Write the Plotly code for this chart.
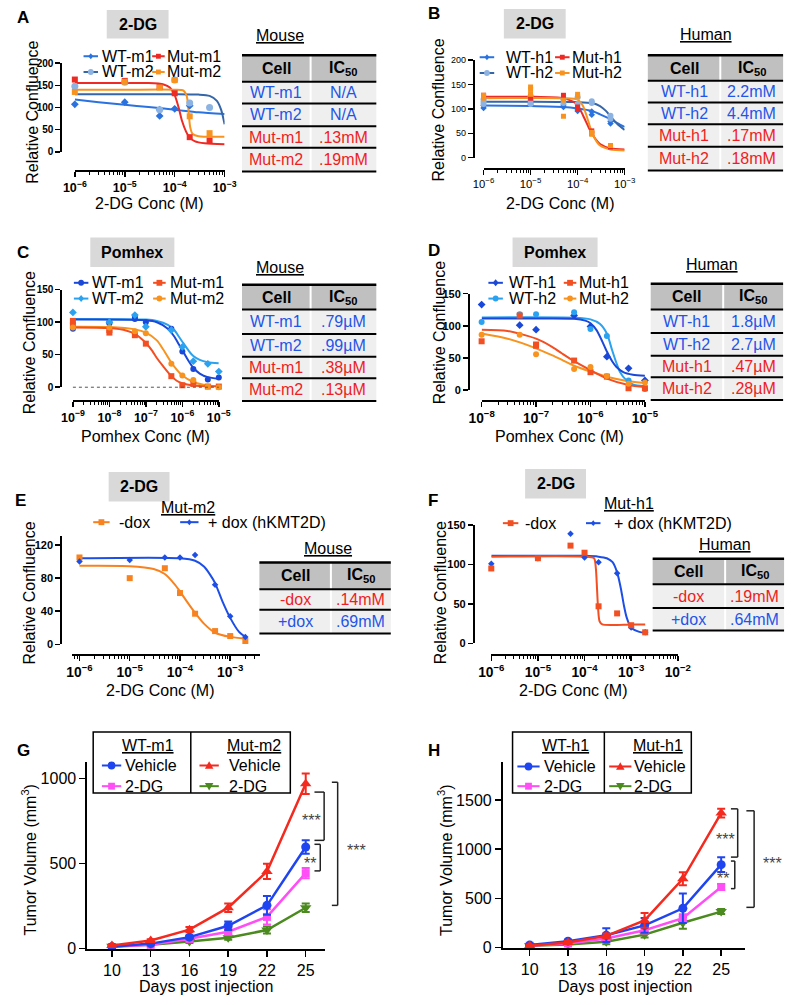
import plotly.graph_objects as go

W, H = 800, 1005
FONT = "Liberation Sans, Arial, sans-serif"

# ====================== DATA ======================
# ---- Panel A : 2-DG, mouse (conc M, relative confluence) ----
A_wt_m1_x = [1e-6, 1e-5, 5e-5, 5e-5, 1e-4, 2e-4, 1e-3]
A_wt_m1_y = [107, 112, 95, 81, 97, 104, 73]
A_wt_m2_x = [1e-6, 1e-5, 5e-5, 1e-4, 2e-4, 5e-4, 1e-3]
A_wt_m2_y = [148, 157, 95, 162, 110, 100, 57]
A_mut_m1_x = [1e-6, 1e-5, 5e-5, 1e-4, 2e-4, 5e-4, 1e-3]
A_mut_m1_y = [163, 160, 147, 132, 33, 25, 13]
A_mut_m2_x = [1e-6, 1e-5, 5e-5, 1e-4, 2e-4, 5e-4, 1e-3]
A_mut_m2_y = [135, 158, 145, 162, 80, 42, 25]
A_fit_wt_m1_x = [1e-6, 3e-6, 1e-5, 3e-5, 1e-4, 3e-4, 1e-3]
A_fit_wt_m1_y = [118, 112, 106, 101, 95, 89, 85]
A_fit_wt_m2_x = [1e-6, 1e-5, 1e-4, 3e-4, 5e-4, 7e-4, 8.5e-4, 1e-3]
A_fit_wt_m2_y = [130, 130, 130, 129, 126, 115, 95, 62]
A_fit_mut_m1_x = [1e-6, 1e-5, 3e-5, 6e-5, 8e-5, 1e-4, 1.2e-4, 1.4e-4, 1.7e-4, 2e-4, 2.5e-4, 4e-4, 1e-3]
A_fit_mut_m1_y = [155, 155, 155, 152, 145, 128, 100, 70, 45, 32, 24, 19, 17]
A_fit_mut_m2_x = [1e-6, 1e-5, 1e-4, 1.5e-4, 1.75e-4, 1.9e-4, 2.05e-4, 2.3e-4, 3e-4, 1e-3]
A_fit_mut_m2_y = [140, 140, 140, 138, 125, 90, 55, 40, 35, 34]

# ---- Panel B : 2-DG, human ----
B_wt_h1_x = [1e-6, 1e-6, 1e-5, 1e-5, 5e-5, 5e-5, 1e-4, 1e-4, 2e-4, 2e-4, 5e-4, 5e-4, 1e-3, 1e-3]
B_wt_h1_y = [102, 107, 110, 116, 108, 104, 96, 100, 88, 95, 75, 70, 60, 66]
B_wt_h2_x = [1e-6, 1e-6, 1e-6, 1e-5, 1e-5, 1e-5, 5e-5, 5e-5, 1e-4, 1e-4, 2e-4, 2e-4, 5e-4, 5e-4, 1e-3, 1e-3, 1e-3]
B_wt_h2_y = [110, 115, 120, 110, 118, 126, 112, 120, 110, 124, 112, 116, 80, 86, 48, 55, 62]
B_mut_h1_x = [1e-6, 1e-6, 1e-5, 1e-5, 5e-5, 5e-5, 1e-4, 1e-4, 2e-4, 2e-4, 5e-4, 5e-4, 1e-3, 1e-3]
B_mut_h1_y = [125, 128, 122, 126, 120, 128, 100, 104, 50, 55, 22, 25, 15, 18]
B_mut_h2_x = [1e-6, 1e-6, 1e-5, 1e-5, 1e-5, 5e-5, 5e-5, 1e-4, 1e-4, 2e-4, 2e-4, 5e-4, 1e-3, 1e-3]
B_mut_h2_y = [122, 128, 130, 140, 145, 85, 118, 126, 130, 48, 52, 25, 12, 15]
B_fit_wt_h1_x = [1e-6, 1e-5, 5e-5, 1e-4, 2e-4, 3e-4, 5e-4, 7e-4, 1e-3]
B_fit_wt_h1_y = [107, 106, 104, 101, 96, 89, 79, 71, 63]
B_fit_wt_h2_x = [1e-6, 1e-5, 1e-4, 2e-4, 3e-4, 4e-4, 5e-4, 7e-4, 1e-3]
B_fit_wt_h2_y = [115, 115, 114, 112, 106, 96, 85, 69, 57]
B_fit_mut_h1_x = [1e-6, 1e-5, 5e-5, 8e-5, 1e-4, 1.3e-4, 1.7e-4, 2e-4, 2.5e-4, 3e-4, 5e-4, 1e-3]
B_fit_mut_h1_y = [125, 125, 122, 115, 108, 87, 63, 50, 36, 28, 19, 17]
B_fit_mut_h2_x = [1e-6, 5e-5, 1e-4, 1.3e-4, 1.6e-4, 1.8e-4, 2e-4, 2.5e-4, 3e-4, 5e-4, 1e-3]
B_fit_mut_h2_y = [122, 122, 119, 106, 82, 66, 53, 34, 25, 17, 15]

# ---- Panel C : Pomhex, mouse ----
C_wt_m1_x = [1e-9, 1e-8, 1e-8, 5e-8, 5e-8, 1e-7, 5e-7, 1e-6, 2e-6, 5e-6, 1e-5]
C_wt_m1_y = [90, 100, 98, 108, 105, 100, 90, 55, 28, 12, 15]
C_wt_m2_x = [1e-9, 1e-8, 5e-8, 1e-7, 5e-7, 1e-6, 2e-6, 5e-6, 1e-5]
C_wt_m2_y = [115, 100, 111, 93, 88, 62, 40, 36, 24]
C_mut_m1_x = [1e-9, 1e-9, 1e-8, 1e-8, 5e-8, 1e-7, 5e-7, 1e-6, 2e-6, 5e-6, 1e-5]
C_mut_m1_y = [102, 95, 88, 84, 80, 67, 17, 3, 5, 1, 1]
C_mut_m2_x = [1e-9, 1e-8, 5e-8, 1e-7, 5e-7, 1e-6, 2e-6, 5e-6, 1e-5]
C_mut_m2_y = [92, 92, 86, 83, 36, 18, 11, 1, 0]
C_fit_wt_m1_x = [1e-9, 1e-7, 2e-7, 4e-7, 6e-7, 8e-7, 1e-6, 1.5e-6, 2e-6, 3e-6, 5e-6, 1e-5]
C_fit_wt_m1_y = [104, 103, 100, 90, 78, 66, 57, 40, 30, 21, 15.5, 13]
C_fit_wt_m2_x = [1e-9, 1e-7, 2e-7, 4e-7, 6e-7, 8e-7, 1e-6, 1.5e-6, 2e-6, 3e-6, 5e-6, 1e-5]
C_fit_wt_m2_y = [105, 104, 102, 96, 88, 78, 70, 56, 48, 42, 38.5, 37]
C_fit_mut_m1_x = [1e-9, 1e-8, 3e-8, 5e-8, 7e-8, 1e-7, 1.5e-7, 2e-7, 3e-7, 5e-7, 7e-7, 1e-6, 2e-6, 5e-6, 1e-5]
C_fit_mut_m1_y = [92, 91, 87, 82, 76, 68, 56, 45, 32, 17, 10, 6, 2.5, 1, 1]
C_fit_mut_m2_x = [1e-9, 1e-8, 5e-8, 1e-7, 2e-7, 3e-7, 5e-7, 7e-7, 1e-6, 2e-6, 5e-6, 1e-5]
C_fit_mut_m2_y = [93, 92.5, 89, 84, 72, 58, 38, 27, 18, 8, 2.5, 1]

# ---- Panel D : Pomhex, human ----
D_wt_h1_x = [1e-8, 5e-8, 1e-7, 5e-7, 1e-6, 2e-6, 5e-6, 1e-5]
D_wt_h1_y = [133, 101, 94, 116, 99, 52, 34, 15]
D_wt_h2_x = [1e-8, 5e-8, 1e-7, 5e-7, 1e-6, 2e-6, 5e-6, 1e-5]
D_wt_h2_y = [106, 118, 118, 121, 95, 84, 15, 2]
D_mut_h1_x = [1e-8, 5e-8, 1e-7, 1e-7, 5e-7, 1e-6, 2e-6, 5e-6, 1e-5]
D_mut_h1_y = [76, 116, 71, 69, 46, 28, 21, 3, 3]
D_mut_h2_x = [1e-8, 5e-8, 1e-7, 5e-7, 1e-6, 2e-6, 5e-6, 1e-5]
D_mut_h2_y = [86, 86, 56, 33, 36, 22, 10, 12]
D_fit_wt_h1_x = [1e-8, 1e-7, 5e-7, 8e-7, 1e-6, 1.3e-6, 1.6e-6, 2e-6, 2.5e-6, 3e-6, 4e-6, 6e-6, 1e-5]
D_fit_wt_h1_y = [111.5, 111.5, 111, 108, 104, 93, 78, 60, 45, 36, 28, 24, 22.5]
D_fit_wt_h2_x = [1e-8, 5e-7, 1e-6, 1.5e-6, 2e-6, 2.5e-6, 3e-6, 3.5e-6, 4.5e-6, 6e-6, 1e-5]
D_fit_wt_h2_y = [113, 112.5, 110, 103, 88, 62, 42, 28, 16, 9, 6]
D_fit_mut_h1_x = [1e-8, 3e-8, 1e-7, 2e-7, 3e-7, 5e-7, 1e-6, 2e-6, 5e-6, 1e-5]
D_fit_mut_h1_y = [94, 92, 80, 67, 57, 45, 31, 18, 8, 5]
D_fit_mut_h2_x = [1e-8, 3e-8, 1e-7, 2e-7, 3e-7, 5e-7, 1e-6, 2e-6, 5e-6, 1e-5]
D_fit_mut_h2_y = [88, 80, 65, 54, 47, 38, 29, 21, 14, 11]

# ---- Panel E : 2-DG, Mut-m2 -/+ dox ----
E_mdox_x = [1e-6, 1e-5, 5e-5, 1e-4, 2e-4, 5e-4, 1e-3, 2e-3]
E_mdox_y = [105, 80, 92, 62, 37, 16, 10, 4]
E_pdox_x = [1e-6, 1e-5, 5e-5, 1e-4, 2e-4, 5e-4, 1e-3, 2e-3]
E_pdox_y = [100, 102, 105, 105, 108, 72, 34, 9]
E_fit_mdox_x = [1e-6, 1e-5, 3e-5, 5e-5, 8e-5, 1e-4, 1.4e-4, 2e-4, 3e-4, 5e-4, 1e-3, 2e-3]
E_fit_mdox_y = [95, 94.5, 91, 85, 72, 64, 51, 38, 25, 14, 9, 7]
E_fit_pdox_x = [1e-6, 1e-4, 2e-4, 3e-4, 4e-4, 5e-4, 7e-4, 1e-3, 1.5e-3, 2e-3]
E_fit_pdox_y = [104, 104, 101, 94, 84, 74, 52, 32, 15, 9]

# ---- Panel F : 2-DG, Mut-h1 -/+ dox ----
F_mdox_x = [1e-6, 1e-5, 5e-5, 1e-4, 2e-4, 5e-4, 1e-3, 2e-3]
F_mdox_y = [95, 108, 124, 115, 47, 38, 23, 14]
F_pdox_x = [1e-6, 1e-5, 5e-5, 1e-4, 2e-4, 5e-4, 1e-3, 2e-3]
F_pdox_y = [101, 108, 139, 109, 103, 89, 20, 14]
F_fit_mdox_x = [1e-6, 1e-4, 1.6e-4, 1.75e-4, 1.85e-4, 1.95e-4, 2.1e-4, 2.4e-4, 1e-3, 2e-3]
F_fit_mdox_y = [110, 110, 108, 95, 70, 45, 28, 24, 24, 24]
F_fit_pdox_x = [1e-6, 1e-4, 2e-4, 3e-4, 4e-4, 5e-4, 6e-4, 7e-4, 8e-4, 1e-3, 1.5e-3, 2e-3]
F_fit_pdox_y = [111, 111, 110, 108, 103, 90, 70, 48, 33, 20, 14.5, 13.5]

# ---- Panel G / H : tumor volume (mm3) ----
days = [10, 13, 16, 19, 22, 25]
G_wt_veh = [12, 30, 68, 135, 255, 598]
G_wt_veh_err = [3, 5, 10, 25, 55, 40]
G_wt_dg = [10, 23, 58, 100, 187, 444]
G_wt_dg_err = [2, 4, 8, 15, 45, 30]
G_mut_veh = [19, 48, 112, 241, 454, 970]
G_mut_veh_err = [4, 8, 15, 25, 45, 60]
G_mut_dg = [15, 23, 42, 64, 110, 241]
G_mut_dg_err = [5, 5, 8, 12, 20, 25]
H_wt_veh = [27, 67, 127, 227, 400, 843]
H_wt_veh_err = [10, 15, 70, 75, 150, 75]
H_wt_dg = [20, 43, 93, 177, 300, 617]
H_wt_dg_err = [8, 10, 20, 30, 40, 30]
H_mut_veh = [20, 53, 120, 277, 700, 1367]
H_mut_veh_err = [10, 15, 25, 75, 65, 45]
H_mut_dg = [20, 33, 60, 133, 253, 367]
H_mut_dg_err = [8, 10, 25, 30, 60, 25]

# ---- tables ----
A_cells = ["WT-m1", "WT-m2", "Mut-m1", "Mut-m2"]
A_ic50 = ["N/A", "N/A", ".13mM", ".19mM"]
B_cells = ["WT-h1", "WT-h2", "Mut-h1", "Mut-h2"]
B_ic50 = ["2.2mM", "4.4mM", ".17mM", ".18mM"]
C_cells = ["WT-m1", "WT-m2", "Mut-m1", "Mut-m2"]
C_ic50 = [".79µM", ".99µM", ".38µM", ".13µM"]
D_cells = ["WT-h1", "WT-h2", "Mut-h1", "Mut-h2"]
D_ic50 = ["1.8µM", "2.7µM", ".47µM", ".28µM"]
E_cells = ["-dox", "+dox"]
E_ic50 = [".14mM", ".69mM"]
F_cells = ["-dox", "+dox"]
F_ic50 = [".19mM", ".64mM"]

# ====================== STYLE ======================
BLUE_A = "#2a72e0"; STEEL = "#3466a8"; LIGHT = "#8db3e2"
RED = "#ee2a24"; ORANGE = "#f7931e"
DBLUE = "#1a48d8"; SKY = "#2aa2ef"; REDOR = "#f24f22"
EBLUE = "#1d4fe6"; EORANGE = "#f7821f"
GBLUE = "#1f45f0"; MAG = "#ff4ef5"; GRED = "#f52a1f"; GREEN = "#4b8a1f"
TBLUE = "#1f55e8"; TRED = "#ee1d23"


def px(x):
    return x / W


def py(y):
    return 1 - y / H


shapes = []
annotations = []


def text(s, x, y, size=15, color="black", xanchor="center", angle=0, yanchor="middle"):
    annotations.append(dict(text=s, x=px(x), y=py(y), xref="paper", yref="paper", showarrow=False,
                            xanchor=xanchor, yanchor=yanchor, textangle=angle, borderpad=0,
                            font=dict(family=FONT, size=size, color=color)))


def rect(x0, y0, x1, y1, fill, line_color=None, lw=0):
    shapes.append(dict(type="rect", xref="paper", yref="paper", x0=px(x0), x1=px(x1), y0=py(y1), y1=py(y0),
                       fillcolor=fill, line=dict(color=line_color or fill, width=lw), layer="below"))


def seg(x0, y0, x1, y1, color="black", lw=2, dash=None):
    shapes.append(dict(type="line", xref="paper", yref="paper", x0=px(x0), x1=px(x1), y0=py(y0), y1=py(y1),
                       line=dict(color=color, width=lw, dash=dash)))


def marker_shape(cx, cy, sym, size, color):
    r = size / 2
    if sym == "circle":
        shapes.append(dict(type="circle", xref="paper", yref="paper", x0=px(cx - r), x1=px(cx + r),
                           y0=py(cy + r), y1=py(cy - r), fillcolor=color, line=dict(width=0)))
        return
    if sym == "square":
        pts_ = [(cx - r, cy - r), (cx + r, cy - r), (cx + r, cy + r), (cx - r, cy + r)]
    elif sym == "diamond":
        pts_ = [(cx, cy - r * 1.2), (cx + r, cy), (cx, cy + r * 1.2), (cx - r, cy)]
    elif sym == "triangle-up":
        pts_ = [(cx, cy - r * 1.1), (cx + r * 1.1, cy + r * 0.8), (cx - r * 1.1, cy + r * 0.8)]
    else:
        pts_ = [(cx, cy + r * 1.1), (cx + r * 1.1, cy - r * 0.8), (cx - r * 1.1, cy - r * 0.8)]
    path = "M " + " L ".join(f"{px(a):.5f},{py(b):.5f}" for a, b in pts_) + " Z"
    shapes.append(dict(type="path", xref="paper", yref="paper", path=path, fillcolor=color, line=dict(width=0)))


def legend_item(xl0, xl1, y, sym, msize, lcolor, mcolor, label, tx, size=16):
    seg(xl0, y, xl1, y, lcolor, 2)
    marker_shape((xl0 + xl1) / 2, y, sym, msize, mcolor)
    text(label, tx, y, size=size, xanchor="left")


def table(x0, xs, x1, ytop, yhdr, yrows, cells, vals, colors, label, lx, ly, size=16):
    rect(x0, ytop, x1, yhdr, "#c0c0c0")
    prev = yhdr
    for yb in yrows:
        rect(x0, prev, x1, yb, "#efefef")
        prev = yb
    seg(xs, ytop, xs, yrows[-1], "white", 2)
    seg(x0, ytop, x1, ytop, "black", 2.5)
    for yy in [yhdr] + yrows:
        seg(x0, yy, x1, yy, "black", 2)
    text("<b>Cell</b>", (x0 + xs) / 2, (ytop + yhdr) / 2, size)
    text("<b>IC<sub>50</sub></b>", (xs + x1) / 2, (ytop + yhdr) / 2, size)
    prev = yhdr
    for c, v, col, yb in zip(cells, vals, colors, yrows):
        text(c, (x0 + xs) / 2, (prev + yb) / 2, size, col)
        text(v, (xs + x1) / 2, (prev + yb) / 2, size, col)
        prev = yb
    text("<u>" + label + "</u>", lx, ly, 16)


def title_box(x0, x1, y0, y1, label):
    rect(x0, y0, x1, y1, "#d9d9d9")
    text("<b>" + label + "</b>", (x0 + x1) / 2, (y0 + y1) / 2, 16)


layout_axes = {}


def log_axes(n, x0, x1, xr, yt, yb, yr, ylx, xly, yticks, tsize, bold=True):
    sx = "" if n == 1 else str(n)
    tf = dict(family=FONT, size=tsize, color="black", weight="bold" if bold else "normal")
    layout_axes["xaxis" + sx] = dict(
        type="log", domain=[px(x0), px(x1)], range=xr, anchor="free", position=py(xly),
        showline=True, linecolor="black", linewidth=2, ticks="outside", ticklen=5, tickwidth=1.5,
        tickcolor="black", tickmode="linear", tick0=0, dtick=1, exponentformat="power",
        showgrid=False, zeroline=False, tickfont=tf,
        minor=dict(ticks="outside", ticklen=3, tickwidth=1, tickcolor="black", dtick="D1", showgrid=False))
    layout_axes["yaxis" + sx] = dict(
        domain=[py(yb), py(yt)], range=yr, anchor="free", position=px(ylx),
        showline=True, linecolor="black", linewidth=2, ticks="outside", ticklen=5, tickwidth=1.5,
        tickcolor="black", tickmode="array", tickvals=yticks, showgrid=False, zeroline=False, tickfont=tf)


def lin_axes(n, x0, x1, xr, yt, yb, yr, yticks):
    sx = str(n)
    tf = dict(family=FONT, size=16, color="black")
    layout_axes["xaxis" + sx] = dict(
        domain=[px(x0), px(x1)], range=xr, anchor="y" + sx, showline=True, linecolor="black", linewidth=2,
        ticks="outside", ticklen=6, tickwidth=1.5, tickcolor="black", tickmode="array", tickvals=days,
        showgrid=False, zeroline=False, tickfont=tf)
    layout_axes["yaxis" + sx] = dict(
        domain=[py(yb), py(yt)], range=yr, anchor="x" + sx, showline=True, linecolor="black", linewidth=2,
        ticks="outside", ticklen=6, tickwidth=1.5, tickcolor="black", tickmode="array", tickvals=yticks,
        showgrid=False, zeroline=False, tickfont=tf)


fig = go.Figure()


def pts(n, x, y, color, sym, size):
    sx = "" if n == 1 else str(n)
    fig.add_trace(go.Scatter(x=x, y=y, mode="markers", xaxis="x" + sx, yaxis="y" + sx, cliponaxis=False,
                             marker=dict(color=color, symbol=sym, size=size, line=dict(width=0)),
                             showlegend=False, hoverinfo="skip"))


def fit(n, x, y, color):
    sx = "" if n == 1 else str(n)
    fig.add_trace(go.Scatter(x=x, y=y, mode="lines", xaxis="x" + sx, yaxis="y" + sx,
                             line=dict(color=color, width=2, shape="spline", smoothing=0.7),
                             showlegend=False, hoverinfo="skip"))


# ---------- Panel A ----------
log_axes(1, 64, 219, [-6, -3], 58, 148, [0, 200], 50, 168, [0, 50, 100, 150, 200], 10)
fit(1, A_fit_wt_m1_x, A_fit_wt_m1_y, BLUE_A)
fit(1, A_fit_wt_m2_x, A_fit_wt_m2_y, STEEL)
fit(1, A_fit_mut_m1_x, A_fit_mut_m1_y, RED)
fit(1, A_fit_mut_m2_x, A_fit_mut_m2_y, ORANGE)
pts(1, A_wt_m1_x, A_wt_m1_y, BLUE_A, "diamond", 6)
pts(1, A_wt_m2_x, A_wt_m2_y, LIGHT, "circle", 7)
pts(1, A_mut_m1_x, A_mut_m1_y, RED, "square", 6)
pts(1, A_mut_m2_x, A_mut_m2_y, ORANGE, "square", 6)
text("<b>A</b>", 3, 12, 17, xanchor="left")
title_box(97, 161, 4, 33, "2-DG")
legend_item(73, 88, 51, "diamond", 5, BLUE_A, BLUE_A, "WT-m1", 91)
legend_item(73, 88, 67, "circle", 6, STEEL, LIGHT, "WT-m2", 91)
legend_item(144, 157, 51, "square", 5, RED, RED, "Mut-m1", 158)
legend_item(144, 157, 67, "square", 5, ORANGE, ORANGE, "Mut-m2", 158)
text("Relative Confluence", 20, 108, 16, angle=-90)
text("2-DG Conc (M)", 141, 201, 16)
table(237, 308, 376, 50, 77, [99, 122, 144, 168], A_cells, A_ic50, [TBLUE, TBLUE, TRED, TRED],
      "Mouse", 276, 30)

# ---------- Panel B ----------
log_axes(2, 487, 633, [-6, -3], 55, 154, [0, 200], 477, 165, [0, 50, 100, 150, 200], 9, bold=False)
fit(2, B_fit_wt_h1_x, B_fit_wt_h1_y, BLUE_A)
fit(2, B_fit_wt_h2_x, B_fit_wt_h2_y, STEEL)
fit(2, B_fit_mut_h1_x, B_fit_mut_h1_y, RED)
fit(2, B_fit_mut_h2_x, B_fit_mut_h2_y, ORANGE)
pts(2, B_wt_h1_x, B_wt_h1_y, BLUE_A, "diamond", 5)
pts(2, B_wt_h2_x, B_wt_h2_y, LIGHT, "circle", 6)
pts(2, B_mut_h1_x, B_mut_h1_y, RED, "square", 5)
pts(2, B_mut_h2_x, B_mut_h2_y, ORANGE, "square", 5)
text("<b>B</b>", 428, 8, 17, xanchor="left")
title_box(508, 572, 3, 33, "2-DG")
legend_item(483, 498, 52, "diamond", 5, BLUE_A, BLUE_A, "WT-h1", 509)
legend_item(483, 498, 68, "circle", 6, STEEL, LIGHT, "WT-h2", 509)
legend_item(561, 576, 52, "square", 5, RED, RED, "Mut-h1", 578)
legend_item(561, 576, 68, "square", 5, ORANGE, ORANGE, "Mut-h2", 578)
text("Relative Confluence", 440, 106, 16, angle=-90)
text("2-DG Conc (M)", 566, 201, 16)
table(657, 732, 797, 50, 76, [98, 120, 143, 167], B_cells, B_ic50, [TBLUE, TBLUE, TRED, TRED],
      "Human", 717, 29)

# ---------- Panel C ----------
log_axes(3, 62, 213, [-9, -5], 288, 387, [0, 150], 50, 401, [0, 50, 100, 150], 10)
shapes.append(dict(type="line", xref="x3 domain", yref="paper", x0=0, x1=1, y0=py(387), y1=py(387),
                   line=dict(color="#555555", width=1, dash="dot")))
fit(3, C_fit_wt_m2_x, C_fit_wt_m2_y, SKY)
fit(3, C_fit_wt_m1_x, C_fit_wt_m1_y, DBLUE)
fit(3, C_fit_mut_m2_x, C_fit_mut_m2_y, ORANGE)
fit(3, C_fit_mut_m1_x, C_fit_mut_m1_y, REDOR)
pts(3, C_wt_m1_x, C_wt_m1_y, DBLUE, "circle", 6)
pts(3, C_wt_m2_x, C_wt_m2_y, SKY, "diamond", 6)
pts(3, C_mut_m1_x, C_mut_m1_y, REDOR, "square", 6)
pts(3, C_mut_m2_x, C_mut_m2_y, ORANGE, "circle", 6)
text("<b>C</b>", 3, 250, 17, xanchor="left")
title_box(80, 167, 235, 265, "Pomhex")
legend_item(63, 78, 281, "circle", 6, DBLUE, DBLUE, "WT-m1", 81)
legend_item(63, 78, 297, "diamond", 6, SKY, SKY, "WT-m2", 81)
legend_item(145, 158, 281, "square", 6, REDOR, REDOR, "Mut-m1", 161)
legend_item(145, 158, 297, "circle", 6, ORANGE, ORANGE, "Mut-m2", 161)
text("Relative Confluence", 18, 342, 16, angle=-90)
text("Pomhex Conc (M)", 137, 437, 16)
table(237, 308, 376, 283, 308, [333, 356, 378, 401], C_cells, C_ic50, [TBLUE, TBLUE, TRED, TRED],
      "Mouse", 276, 265)

# ---------- Panel D ----------
log_axes(4, 485, 654, [-8, -5], 292, 390, [0, 150], 472, 401, [0, 50, 100, 150], 11)
fit(4, D_fit_wt_h2_x, D_fit_wt_h2_y, SKY)
fit(4, D_fit_wt_h1_x, D_fit_wt_h1_y, DBLUE)
fit(4, D_fit_mut_h2_x, D_fit_mut_h2_y, ORANGE)
fit(4, D_fit_mut_h1_x, D_fit_mut_h1_y, REDOR)
pts(4, D_wt_h1_x, D_wt_h1_y, DBLUE, "diamond", 6)
pts(4, D_wt_h2_x, D_wt_h2_y, SKY, "circle", 6)
pts(4, D_mut_h1_x, D_mut_h1_y, REDOR, "square", 6)
pts(4, D_mut_h2_x, D_mut_h2_y, ORANGE, "circle", 6)
text("<b>D</b>", 428, 248, 17, xanchor="left")
title_box(517, 605, 235, 265, "Pomhex")
legend_item(492, 507, 281, "diamond", 6, DBLUE, DBLUE, "WT-h1", 512)
legend_item(492, 507, 297, "circle", 6, SKY, SKY, "WT-h2", 512)
legend_item(570, 583, 281, "square", 6, REDOR, REDOR, "Mut-h1", 585)
legend_item(570, 583, 297, "circle", 6, ORANGE, ORANGE, "Mut-h2", 585)
text("Relative Confluence", 441, 332, 16, angle=-90)
text("Pomhex Conc (M)", 566, 437, 16)
table(660, 735, 797, 282, 308, [332, 355, 377, 400], D_cells, D_ic50, [TBLUE, TBLUE, TRED, TRED],
      "Human", 723, 262)

# ---------- Panel E ----------
log_axes(5, 61, 256, [-6.15, -2.4], 538, 648, [0, 131], 50, 659, [0, 40, 80, 120], 11)
fit(5, E_fit_mdox_x, E_fit_mdox_y, EORANGE)
fit(5, E_fit_pdox_x, E_fit_pdox_y, EBLUE)
pts(5, E_mdox_x, E_mdox_y, EORANGE, "square", 6)
pts(5, E_pdox_x, E_pdox_y, EBLUE, "diamond", 5)
text("<b>E</b>", 1, 502, 17, xanchor="left")
title_box(99, 162, 473, 503, "2-DG")
text("<u>Mut-m2</u>", 181, 509, 16)
legend_item(83, 100, 524, "square", 6, EORANGE, EORANGE, "-dox", 109)
legend_item(173, 192, 524, "diamond", 5, EBLUE, EBLUE, "+ dox (hKMT2D)", 201)
text("Relative Confluence", 17, 596, 16, angle=-90)
text("2-DG Conc (M)", 152, 695, 16)
table(255, 329, 391, 565, 592, [613, 637], E_cells, E_ic50, [TRED, TBLUE], "Mouse", 326, 551)

# ---------- Panel F ----------
log_axes(6, 495, 688, [-6, -2], 527, 647, [0, 150], 477, 659, [0, 50, 100, 150], 11)
fit(6, F_fit_pdox_x, F_fit_pdox_y, EBLUE)
fit(6, F_fit_mdox_x, F_fit_mdox_y, REDOR)
pts(6, F_pdox_x, F_pdox_y, EBLUE, "diamond", 5)
pts(6, F_mdox_x, F_mdox_y, REDOR, "square", 6)
text("<b>F</b>", 428, 502, 17, xanchor="left")
title_box(530, 593, 470, 500, "2-DG")
text("<u>Mut-h1</u>", 638, 505, 16)
legend_item(507, 523, 525, "square", 6, REDOR, REDOR, "-dox", 529)
legend_item(593, 608, 525, "diamond", 5, EBLUE, EBLUE, "+ dox (hKMT2D)", 621)
text("Relative Confluence", 442, 596, 16, angle=-90)
text("2-DG Conc (M)", 580, 695, 16)
table(662, 737, 798, 561, 587, [611, 634], F_cells, F_ic50, [TRED, TBLUE], "Human", 737, 547)


# ---------- Panels G / H ----------
def growth(n, y, err, color, sym, size):
    sx = str(n)
    fig.add_trace(go.Scatter(x=days, y=y, mode="lines+markers", xaxis="x" + sx, yaxis="y" + sx, cliponaxis=False,
                             line=dict(color=color, width=2.5), marker=dict(color=color, symbol=sym, size=size),
                             error_y=dict(type="data", array=err, visible=True, color=color, thickness=2, width=4),
                             showlegend=False, hoverinfo="skip"))


lin_axes(7, 77, 323, [8.1, 26.5], 767, 957, [0, 1100], [0, 500, 1000])
growth(7, G_mut_dg, G_mut_dg_err, GREEN, "triangle-down", 10)
growth(7, G_wt_dg, G_wt_dg_err, MAG, "square", 8)
growth(7, G_wt_veh, G_wt_veh_err, GBLUE, "circle", 9)
growth(7, G_mut_veh, G_mut_veh_err, GRED, "triangle-up", 10)
text("<b>G</b>", 3, 756, 17, xanchor="left")
rect(83, 737, 287, 799, "white", "black", 1.5)
seg(184, 737, 184, 799, "black", 1.5)
text("<u>WT-m1</u>", 140, 751, 16)
text("<u>Mut-m2</u>", 249, 751, 16)
legend_item(92, 112, 771, "circle", 8, GBLUE, GBLUE, "Vehicle", 115)
legend_item(92, 112, 792, "square", 7, MAG, MAG, "2-DG", 115)
legend_item(193, 213, 771, "triangle-up", 8, GRED, GRED, "Vehicle", 223)
legend_item(193, 213, 792, "triangle-down", 8, GREEN, GREEN, "2-DG", 223)
text("Tumor Volume (mm<sup>3</sup>)", 17, 867, 16, angle=-90)
text("Days post injection", 200, 995, 16)
for (xa, xb, ya, yb) in [(312, 322, 798, 847), (312, 318, 851, 878), (330, 336, 788, 913)]:
    seg(xa, ya, xb, ya, "#222222", 1.5)
    seg(xb, ya, xb, yb, "#222222", 1.5)
    seg(xb, yb, xa, yb, "#222222", 1.5)
text("***", 309, 827, 16, "#444444")
text("**", 307, 870, 16, "#444444")
text("***", 355, 857, 16, "#444444")

lin_axes(8, 507, 758, [7.9, 26.9], 767, 956, [0, 1890], [0, 500, 1000, 1500])
growth(8, H_mut_dg, H_mut_dg_err, GREEN, "triangle-down", 10)
growth(8, H_wt_dg, H_wt_dg_err, MAG, "square", 8)
growth(8, H_wt_veh, H_wt_veh_err, GBLUE, "circle", 9)
growth(8, H_mut_veh, H_mut_veh_err, GRED, "triangle-up", 10)
text("<b>H</b>", 428, 756, 17, xanchor="left")
rect(517, 737, 702, 799, "white", "black", 1.5)
seg(612, 737, 612, 799, "black", 1.5)
text("<u>WT-h1</u>", 572, 751, 16)
text("<u>Mut-h1</u>", 668, 751, 16)
legend_item(522, 545, 772, "circle", 8, GBLUE, GBLUE, "Vehicle", 548)
legend_item(522, 545, 792, "square", 7, MAG, MAG, "2-DG", 548)
legend_item(617, 640, 772, "triangle-up", 8, GRED, GRED, "Vehicle", 642)
legend_item(617, 640, 792, "triangle-down", 8, GREEN, GREEN, "2-DG", 642)
text("Tumor Volume (mm<sup>3</sup>)", 447, 867, 16, angle=-90)
text("Days post injection", 633, 995, 16)
for (xa, xb, ya, yb) in [(743, 750, 815, 864), (743, 747, 868, 896), (759, 767, 817, 915)]:
    seg(xa, ya, xb, ya, "#222222", 1.5)
    seg(xb, ya, xb, yb, "#222222", 1.5)
    seg(xb, yb, xa, yb, "#222222", 1.5)
text("***", 737, 846, 16, "#444444")
text("**", 735, 886, 16, "#444444")
text("***", 786, 870, 16, "#444444")

fig.update_layout(width=W, height=H, margin=dict(l=0, r=0, t=0, b=0), paper_bgcolor="white",
                  plot_bgcolor="rgba(0,0,0,0)", showlegend=False, shapes=shapes, annotations=annotations,
                  font=dict(family=FONT, color="black"), hovermode=False, **layout_axes)
fig.write_html("out.html", config={"displayModeBar": False, "staticPlot": True},
               post_script="document.body.style.margin='0px';document.body.style.overflow='hidden';")
